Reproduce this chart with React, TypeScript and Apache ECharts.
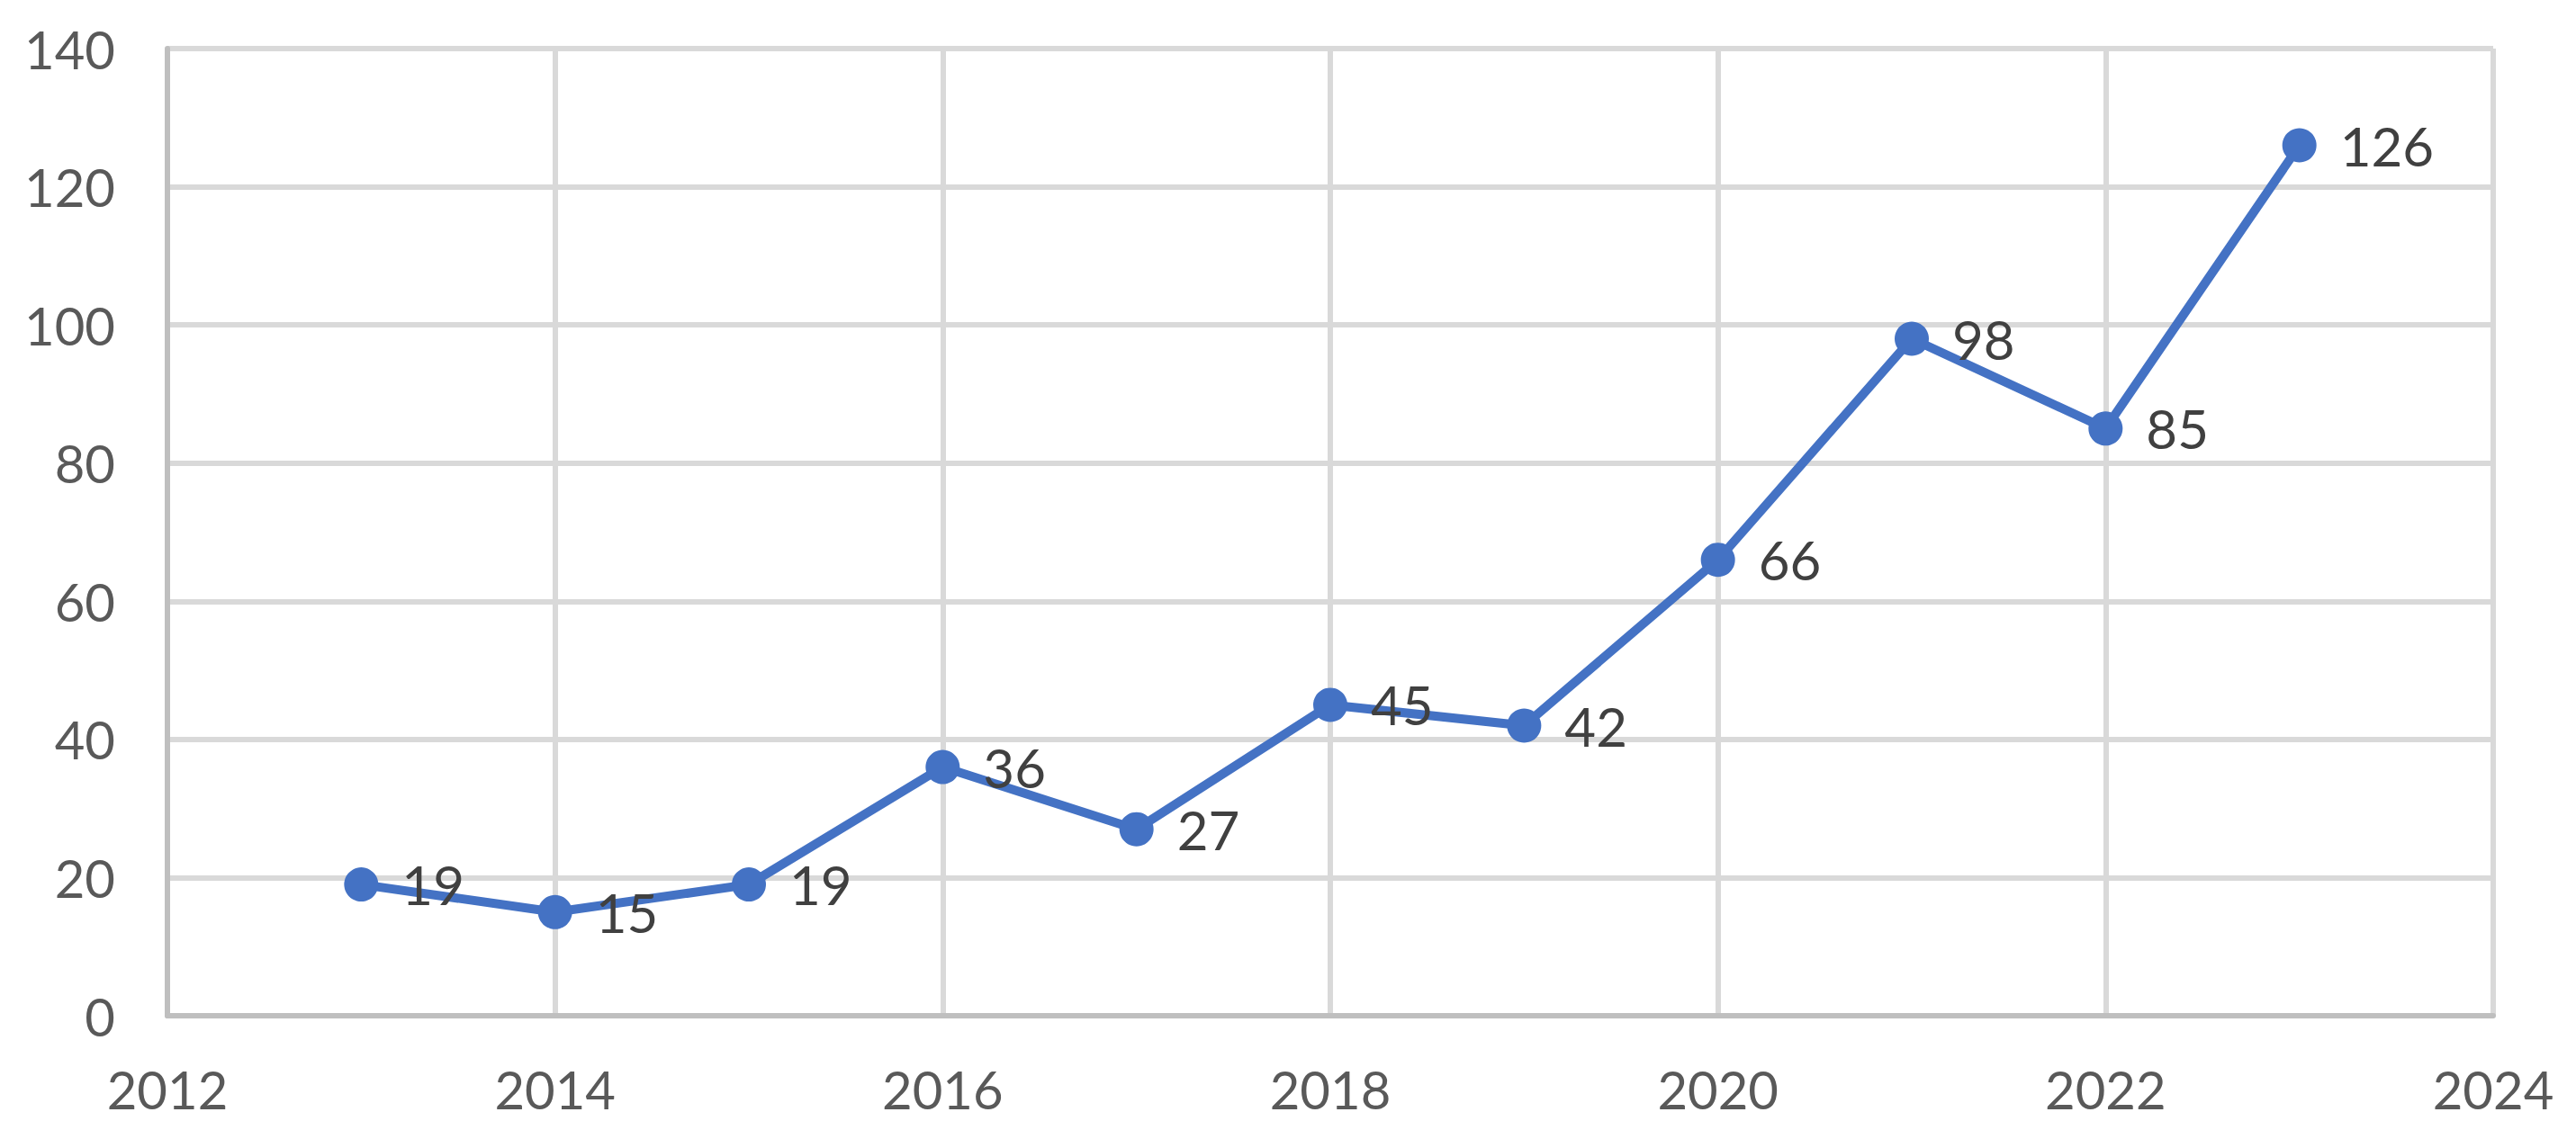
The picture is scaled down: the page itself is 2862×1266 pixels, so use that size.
import React, { useEffect, useRef } from "react";
import * as echarts from "echarts";

const years = [2013, 2014, 2015, 2016, 2017, 2018, 2019, 2020, 2021, 2022, 2023];
const values = [19, 15, 19, 36, 27, 45, 42, 66, 98, 85, 126];

export default function App() {
  const ref = useRef<HTMLDivElement>(null);
  useEffect(() => {
    const chart = echarts.init(ref.current!, undefined, { renderer: "svg" });
    const font = "Lato, 'Liberation Sans', sans-serif";
    chart.setOption({
      animation: false,
      backgroundColor: "#ffffff",
      grid: { left: 186, right: 92, top: 54, bottom: 137 },
      xAxis: {
        type: "value",
        min: 2012,
        max: 2024,
        interval: 2,
        axisLine: { show: true, lineStyle: { color: "#bfbfbf", width: 6 } },
        axisTick: { show: false },
        splitLine: { show: true, lineStyle: { color: "#d9d9d9", width: 6 } },
        axisLabel: {
          color: "#595959",
          fontSize: 58,
          fontFamily: font,
          margin: 52,
          formatter: (v: number) => String(v),
        },
      },
      yAxis: {
        type: "value",
        min: 0,
        max: 140,
        interval: 20,
        axisLine: { show: true, lineStyle: { color: "#bfbfbf", width: 6 } },
        axisTick: { show: false },
        splitLine: { show: true, lineStyle: { color: "#d9d9d9", width: 6 } },
        axisLabel: {
          color: "#595959",
          fontSize: 58,
          fontFamily: font,
          margin: 58,
        },
      },
      series: [
        {
          type: "line",
          data: years.map((y, i) => [y, values[i]]),
          symbol: "circle",
          symbolSize: 38,
          itemStyle: { color: "#4472c4" },
          lineStyle: { color: "#4472c4", width: 10 },
          label: {
            show: true,
            position: "right",
            distance: 26,
            color: "#404040",
            fontSize: 60,
            fontFamily: font,
            formatter: (p: any) => String(p.value[1]),
          },
        },
      ],
    });
    return () => chart.dispose();
  }, []);
  return (
    <div
      ref={ref}
      style={{ position: "fixed", left: 0, top: 0, width: 2862, height: 1266 }}
    />
  );
}
